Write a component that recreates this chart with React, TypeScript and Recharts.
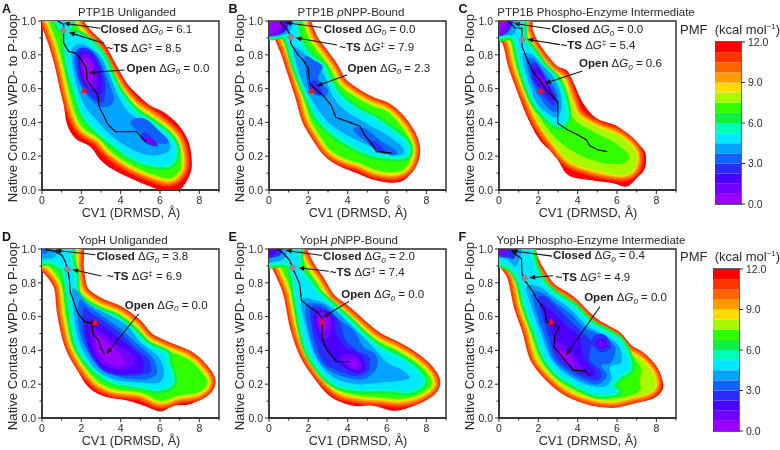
import React from "react";
import { ScatterChart, Scatter, XAxis, YAxis, ReferenceArea, BarChart, Bar, Label } from "recharts";

type P = [number, number];

const bandColors = ["#9a00ff","#7400ff","#4a00ff","#2a2cff","#0f62ff","#00a4ff","#00e8ff","#00ffb4","#10f040","#30ff00","#a8f800","#ffdc00","#ff9c00","#ff6400","#ff3400","#ff0000"];
const bandValues = [0.75,0.75,0.75,0.75,0.75,0.75,0.75,0.75,0.75,0.75,0.75,0.75,0.75,0.75,0.75,0.75];
const barTicks = [0,3,6,9,12];
const xTicks = [0,1,2,3,4,5,6,7,8,9];
const yTicks = [0,0.1,0.2,0.3,0.4,0.5,0.6,0.7,0.8,0.9,1];

// ---- Panel A
const aL15: P[] = [[-0.3,1.05],[-0.3,0.95],[0,0.95],[0.42,0.92],[0.6,0.79],[0.85,0.65],[1.1,0.51],[1.27,0.39],[1.7,0.305],[2.46,0.256],[2.97,0.178],[3.65,0.118],[4.67,0.06],[5.5,0.02],[6.2,-0.005],[7,0],[7.55,0.1],[7.6,0.2],[7.4,0.3],[6.9,0.39],[6.2,0.46],[5.5,0.5],[4.9,0.56],[4.33,0.63],[3.73,0.75],[3.14,0.87],[2.3,0.955],[1.8,1],[1.6,1.05]];
const aL9: P[] = [[0.3,1.05],[0.45,0.97],[0.76,0.87],[1.1,0.73],[1.36,0.59],[1.7,0.45],[2.1,0.365],[2.9,0.305],[3.5,0.23],[4.5,0.15],[5.7,0.09],[6.5,0.07],[7,0.12],[7.05,0.2],[6.8,0.3],[6.2,0.375],[5.35,0.445],[4.67,0.5],[4,0.59],[3.4,0.71],[2.8,0.83],[2.1,0.92],[1.7,0.985],[1.5,1.05]];
const aL6: P[] = [[1.2,0.9],[1.36,0.73],[1.7,0.59],[2.1,0.45],[2.7,0.365],[3.4,0.295],[4.5,0.2],[5.5,0.155],[6.5,0.155],[6.8,0.235],[6.45,0.315],[5.7,0.385],[4.9,0.445],[4.33,0.51],[3.65,0.63],[3.14,0.77],[2.46,0.87],[1.7,0.92]];
const aL6Top: P[] = [[0.7,1.05],[0.9,0.97],[1.2,0.93],[1.4,0.98],[1.4,1.05]];
const aL5: P[] = [[1.53,0.83],[1.65,0.67],[2.12,0.51],[2.8,0.41],[3.48,0.325],[4.33,0.256],[5.35,0.207],[6.28,0.217],[6.54,0.266],[6,0.335],[5.2,0.4],[4.4,0.46],[3.9,0.55],[3.4,0.69],[2.9,0.8],[2.1,0.86]];
const aL4: P[] = [[1.65,0.8],[1.78,0.67],[2.3,0.56],[3,0.49],[3.65,0.53],[3.28,0.67],[2.8,0.79],[2.1,0.84]];
const aL4b: P[] = [[4.5,0.405],[5,0.335],[5.86,0.276],[6.45,0.286],[6,0.345],[5.2,0.425]];
const aL3: P[] = [[1.78,0.82],[1.9,0.66],[2.4,0.56],[3.1,0.52],[3.2,0.65],[2.75,0.79],[2.25,0.84]];
const aL3b: P[] = [[5,0.31],[5.4,0.27],[5.9,0.26],[5.6,0.31],[5.2,0.34]];
const aL2: P[] = [[1.9,0.81],[2,0.66],[2.5,0.59],[3,0.57],[3,0.69],[2.55,0.8]];
const aL1: P[] = [[1.95,0.79],[2.05,0.67],[2.45,0.6],[2.8,0.62],[2.75,0.72],[2.4,0.8]];
const aL1b: P[] = [[5.1,0.3],[5.5,0.27],[5.8,0.28],[5.4,0.31]];
const aL0: P[] = [[2.05,0.76],[2.15,0.66],[2.5,0.63],[2.6,0.72],[2.35,0.78]];
const aPath: P[] = [[0.8,1],[1.1,0.98],[1.1,0.91],[1.1,0.87],[1.36,0.82],[1.7,0.81],[1.95,0.78],[2.26,0.72],[2.29,0.65],[2.55,0.61],[2.84,0.56],[2.92,0.49],[3.14,0.44],[3.34,0.39],[3.73,0.345],[4.8,0.345],[5.3,0.285]];

// ---- Panel B
const bL15: P[] = [[-0.3,1.05],[-0.3,0.9],[0,0.9],[0.54,0.9],[0.88,0.79],[1.22,0.65],[1.56,0.53],[1.82,0.39],[2.24,0.3],[2.84,0.2],[3.6,0.14],[4.45,0.1],[5.3,0.06],[6.3,0.043],[7,0.07],[7.5,0.16],[7.6,0.24],[7.33,0.325],[6.65,0.424],[6.06,0.49],[5.3,0.53],[4.45,0.58],[3.85,0.64],[3.43,0.73],[3.17,0.77],[2.4,0.88],[2.07,0.965],[1.9,1],[1.85,1.05]];
const bL9: P[] = [[-0.3,1.05],[-0.3,0.95],[0.5,0.94],[0.95,0.84],[1.3,0.72],[1.75,0.56],[2.1,0.42],[2.6,0.32],[3.1,0.24],[3.8,0.19],[4.6,0.16],[5.4,0.12],[6.3,0.105],[6.9,0.13],[7.2,0.19],[7.25,0.25],[7.05,0.32],[6.5,0.41],[5.9,0.47],[5.2,0.5],[4.4,0.55],[3.6,0.62],[3.1,0.72],[2.6,0.8],[2.1,0.88],[1.75,0.98],[1.6,1.05]];
const bL6: P[] = [[1.02,0.87],[1.4,0.72],[2.07,0.53],[2.58,0.415],[3.77,0.296],[5.13,0.217],[6.3,0.197],[7,0.207],[7,0.276],[6.3,0.345],[5.3,0.424],[4.45,0.473],[3.6,0.552],[3,0.66],[2.75,0.73],[2.07,0.79],[1.56,0.88],[1.4,0.95],[1.2,1.05],[-0.3,1.05],[-0.3,0.92],[0.7,0.92]];
const bL5: P[] = [[1.22,0.83],[1.73,0.63],[2.41,0.49],[3.17,0.385],[4.45,0.296],[5.64,0.237],[6.65,0.207],[6.83,0.247],[6,0.325],[4.96,0.394],[3.94,0.464],[3.26,0.552],[2.75,0.69],[2.07,0.77],[1.56,0.83]];
const bL5Top: P[] = [[-0.3,1.05],[-0.3,0.915],[0.7,0.915],[1.1,0.95],[1.15,1.05]];
const bL4: P[] = [[1.82,0.79],[1.9,0.67],[2.07,0.59],[2.75,0.55],[3,0.59],[2.5,0.66],[2.72,0.73],[2.24,0.77]];
const bL4b: P[] = [[4.28,0.355],[5.3,0.256],[6.15,0.207],[6.5,0.227],[5.64,0.296],[4.87,0.365]];
const bL4Top: P[] = [[-0.3,1.05],[-0.3,0.92],[0.6,0.92],[1,0.97],[1.05,1.05]];
const bL3: P[] = [[2.05,0.62],[2.2,0.575],[2.7,0.565],[2.6,0.61],[2.3,0.65]];
const bL3b: P[] = [[5.1,0.27],[5.6,0.225],[6,0.215],[5.7,0.26],[5.3,0.29]];
const bL2Top: P[] = [[-0.3,1.05],[-0.3,0.925],[0.55,0.925],[0.9,0.96],[1,1.05]];
const bL0Top: P[] = [[-0.3,1.05],[-0.3,0.94],[0.35,0.935],[0.65,1],[0.75,1.05]];
const bPath: P[] = [[0.54,0.996],[0.88,0.957],[1.14,0.907],[1.09,0.87],[1.48,0.8],[1.73,0.77],[1.99,0.72],[2.07,0.63],[2.33,0.6],[2.75,0.56],[3.17,0.5],[3.4,0.43],[4.11,0.4],[4.62,0.378],[4.87,0.325],[5.21,0.276],[5.47,0.227],[6.23,0.22]];

// ---- Panel C
const cL15: P[] = [[-0.3,1.05],[-0.3,0.907],[0,0.907],[0.2,0.897],[0.54,0.74],[0.88,0.6],[1.39,0.444],[2.07,0.296],[2.84,0.207],[3.51,0.089],[4.62,0.059],[5.8,0.04],[6.49,0.02],[7,0.07],[7.42,0.128],[7.42,0.227],[6.83,0.29],[6.06,0.375],[4.96,0.424],[4.28,0.513],[3.77,0.64],[3.43,0.71],[2.84,0.74],[2.07,0.858],[1.65,0.957],[1.48,1.05]];
const cL10: P[] = [[-0.3,1.05],[-0.3,0.95],[0.46,0.89],[0.8,0.74],[1.31,0.58],[1.99,0.404],[2.75,0.276],[3.6,0.168],[4.79,0.118],[6.15,0.089],[6.74,0.108],[7,0.168],[6.91,0.237],[6.06,0.325],[4.96,0.375],[4.02,0.444],[3.6,0.562],[3.26,0.66],[2.58,0.72],[1.73,0.848],[1.39,0.937],[1.2,1.05]];
const cL9: P[] = [[-0.3,1.05],[-0.3,0.93],[0.4,0.93],[0.71,0.858],[1.05,0.72],[1.56,0.562],[2.33,0.385],[3.17,0.276],[4.11,0.207],[5.3,0.158],[6.32,0.158],[6.57,0.207],[5.8,0.286],[4.79,0.345],[3.77,0.424],[3.34,0.562],[3,0.66],[2.33,0.74],[1.65,0.848],[1.22,0.937],[1.14,1.05]];
const cL6: P[] = [[0.97,0.82],[1.22,0.7],[1.73,0.54],[2.33,0.444],[3,0.385],[3.43,0.424],[3.29,0.542],[2.92,0.65],[2.24,0.73],[1.65,0.828],[1.22,0.897],[1.05,1.05],[-0.3,1.05],[-0.3,0.915],[0.6,0.915],[0.85,0.88]];
const cL5: P[] = [[1.2,0.8],[1.4,0.68],[1.85,0.53],[2.4,0.46],[2.95,0.43],[3.2,0.5],[3.05,0.6],[2.7,0.68],[2.2,0.74],[1.7,0.8]];
const cL5Top: P[] = [[-0.3,1.05],[-0.3,0.915],[0.35,0.915],[0.8,0.93],[0.85,1.05]];
const cL4: P[] = [[1.4,0.77],[1.55,0.68],[1.95,0.57],[2.45,0.49],[2.9,0.46],[3.05,0.52],[2.8,0.61],[2.45,0.67],[2.1,0.73],[1.7,0.78]];
const cL3: P[] = [[1.6,0.74],[1.7,0.66],[2.1,0.58],[2.55,0.52],[2.85,0.5],[2.85,0.56],[2.55,0.62],[2.2,0.7],[1.9,0.75]];
const cL3Top: P[] = [[-0.3,1.05],[-0.3,0.92],[0.3,0.92],[0.65,0.97],[0.7,1.05]];
const cL2: P[] = [[1.75,0.72],[1.75,0.65],[2.15,0.6],[2.5,0.56],[2.75,0.53],[2.7,0.58],[2.35,0.66],[2,0.72]];
const cL1: P[] = [[1.85,0.68],[2.2,0.62],[2.45,0.59],[2.3,0.65],[2,0.69]];
const cL1Top: P[] = [[-0.3,1.05],[-0.3,0.93],[0.3,0.93],[0.5,0.97],[0.6,1.05]];
const cL0Top: P[] = [[-0.3,1.05],[-0.3,0.95],[0.2,0.95],[0.4,1.05]];
const cPath: P[] = [[0.46,1],[0.8,0.96],[1.17,0.957],[1.17,0.848],[1.31,0.81],[1.48,0.76],[1.73,0.7],[2.07,0.651],[2.41,0.592],[2.75,0.552],[2.99,0.519],[2.99,0.394],[3.51,0.355],[4.02,0.325],[4.45,0.296],[4.62,0.262],[5.04,0.237],[5.5,0.227]];

// ---- Panel D
const dL15: P[] = [[-0.3,1.05],[-0.3,0.915],[0,0.915],[0.25,0.91],[0.68,0.8],[0.93,0.626],[1.19,0.449],[1.61,0.33],[2.29,0.192],[3.14,0.128],[4.33,0.103],[5.18,0.073],[6.03,0.04],[6.7,0.073],[7.56,0.083],[8.4,0.142],[8.74,0.221],[8.4,0.3],[7.72,0.379],[6.88,0.429],[6.03,0.468],[5.18,0.528],[4.5,0.617],[3.65,0.666],[2.8,0.706],[2.2,0.765],[2.04,0.883],[1.87,1],[1.85,1.05]];
const dL9: P[] = [[-0.3,1.05],[-0.3,0.95],[0.42,0.89],[1.02,0.785],[1.19,0.626],[1.53,0.449],[2.04,0.33],[2.8,0.221],[3.65,0.172],[5,0.152],[6.03,0.103],[6.88,0.132],[7.9,0.152],[8.4,0.21],[8.06,0.28],[7.39,0.35],[6.37,0.4],[5.35,0.458],[4.67,0.547],[3.82,0.617],[2.8,0.666],[1.95,0.745],[1.7,0.883],[1.53,1.05]];
const dL6: P[] = [[1.1,0.88],[1.36,0.725],[1.7,0.468],[2.2,0.35],[2.97,0.26],[3.82,0.21],[5,0.192],[5.86,0.172],[6.62,0.21],[6.37,0.33],[6.28,0.38],[5.35,0.429],[4.67,0.508],[3.82,0.587],[2.8,0.636],[1.78,0.715],[1.65,0.844],[1.44,0.943],[1.27,1.05],[-0.3,1.05],[-0.3,0.93],[0.4,0.93],[0.9,0.9]];
const dL5: P[] = [[1.53,0.745],[1.7,0.547],[2.04,0.41],[2.72,0.29],[3.65,0.23],[5,0.21],[5.94,0.21],[6.2,0.27],[5.94,0.36],[5,0.449],[4.33,0.547],[3.31,0.617],[2.38,0.676],[1.78,0.755]];
const dL5Top: P[] = [[-0.3,1.05],[-0.3,0.96],[0.6,0.95],[0.9,1.05]];
const dL4: P[] = [[1.87,0.695],[1.87,0.528],[2.29,0.4],[2.97,0.3],[3.99,0.24],[5.35,0.23],[5.86,0.27],[5.6,0.36],[4.84,0.439],[3.99,0.528],[3.14,0.597],[2.29,0.666]];
const dL4Top: P[] = [[-0.3,1.05],[-0.3,0.98],[0.3,0.98],[0.5,1.05]];
const dL3: P[] = [[2.1,0.65],[2.1,0.5],[2.5,0.37],[3.1,0.28],[4,0.25],[5,0.255],[5.55,0.28],[5.35,0.36],[4.7,0.42],[4,0.5],[3.2,0.57],[2.5,0.62]];
const dL2: P[] = [[2.3,0.58],[2.3,0.45],[2.8,0.33],[3.5,0.27],[4.4,0.26],[5.1,0.28],[5.1,0.35],[4.5,0.42],[3.8,0.48],[3,0.55]];
const dL1: P[] = [[2.5,0.53],[2.6,0.41],[3.2,0.31],[4,0.29],[4.7,0.32],[4.4,0.39],[3.7,0.44],[3.1,0.5]];
const dL0: P[] = [[2.7,0.49],[2.8,0.4],[3.3,0.33],[4,0.31],[4.2,0.34],[3.7,0.41],[3.1,0.47]];
const dPath: P[] = [[0.17,0.998],[0.68,0.986],[1.02,0.962],[1.19,0.923],[1.31,0.874],[1.39,0.824],[1.44,0.745],[1.65,0.676],[1.83,0.617],[2.2,0.567],[2.55,0.563],[2.58,0.498],[2.89,0.458],[2.97,0.419],[3.17,0.379]];

// ---- Panel E
const eL15: P[] = [[-0.3,1.05],[-0.3,0.91],[0,0.91],[0.46,0.893],[0.8,0.745],[1.14,0.547],[1.65,0.37],[2.33,0.231],[3.17,0.123],[4.28,0.073],[5.3,0.073],[6.32,0.043],[7.16,0.063],[8.18,0.123],[8.6,0.211],[8.35,0.29],[7.67,0.37],[6.83,0.429],[5.81,0.488],[5.21,0.528],[4.45,0.607],[3.6,0.666],[2.92,0.735],[2.33,0.844],[1.82,0.943],[1.65,1],[1.6,1.05]];
const eL9: P[] = [[-0.3,1.05],[-0.3,0.95],[0.3,0.95],[0.58,0.9],[1.14,0.745],[1.48,0.547],[1.99,0.38],[2.75,0.25],[3.6,0.162],[4.62,0.132],[5.64,0.123],[6.66,0.113],[7.67,0.142],[8.27,0.2],[8.01,0.27],[7.33,0.34],[6.49,0.4],[5.47,0.458],[4.7,0.528],[3.85,0.617],[3,0.696],[2.41,0.804],[1.9,0.893],[1.48,1],[1.45,1.05]];
const eL6: P[] = [[1.22,0.844],[1.56,0.607],[1.9,0.429],[2.58,0.29],[3.43,0.2],[4.62,0.172],[5.98,0.172],[7.16,0.162],[7.84,0.211],[7.5,0.28],[6.66,0.35],[5.64,0.41],[4.79,0.488],[4.11,0.567],[3.26,0.656],[2.5,0.735],[1.99,0.814],[1.56,0.883],[1.3,1.05],[-0.3,1.05],[-0.3,0.92],[0.6,0.92],[1,0.91]];
const eL5: P[] = [[1.65,0.696],[1.9,0.528],[2.41,0.35],[3.26,0.241],[4.45,0.2],[5.81,0.211],[7.08,0.231],[6.83,0.28],[5.98,0.33],[5.3,0.419],[4.62,0.498],[3.94,0.577],[3.17,0.656],[2.41,0.696]];
const eL5Top: P[] = [[-0.3,1.05],[-0.3,0.925],[0.3,0.925],[0.8,0.95],[1,1.05]];
const eL4: P[] = [[1.85,0.66],[2.05,0.5],[2.5,0.35],[3.2,0.27],[4.3,0.23],[5,0.24],[5.5,0.3],[5.4,0.38],[4.8,0.42],[4.3,0.52],[3.6,0.58],[3,0.65],[2.4,0.68]];
const eL3: P[] = [[2.1,0.64],[2.3,0.47],[2.8,0.33],[3.5,0.28],[4.3,0.25],[5,0.27],[5.1,0.36],[4.5,0.4],[3.9,0.46],[3.6,0.57],[3,0.63],[2.5,0.66]];
const eL3Top: P[] = [[-0.3,1.05],[-0.3,0.95],[0.2,0.95],[0.6,0.97],[0.7,1.05]];
const eL2: P[] = [[2.3,0.62],[2.4,0.52],[2.9,0.4],[3.5,0.33],[4.3,0.27],[4.9,0.29],[4.7,0.37],[3.9,0.42],[3.4,0.5],[3.3,0.6],[2.8,0.64]];
const eL2Top: P[] = [[-0.3,1.05],[-0.3,0.97],[0.3,0.97],[0.5,1.05]];
const eL1: P[] = [[2.4,0.6],[2.5,0.52],[2.9,0.47],[3.2,0.53],[3.1,0.6],[2.7,0.63]];
const eL1b: P[] = [[3.6,0.35],[4.2,0.29],[4.7,0.3],[4.5,0.36],[3.9,0.38]];
const eL0: P[] = [[2.5,0.59],[2.6,0.53],[2.9,0.51],[3,0.56],[2.8,0.61]];
const eL0b: P[] = [[4,0.32],[4.4,0.3],[4.5,0.33],[4.2,0.35]];
const ePath: P[] = [[0.46,0.998],[0.75,0.972],[1.05,0.933],[1.22,0.883],[1.56,0.794],[1.65,0.696],[2.07,0.656],[2.45,0.626],[2.7,0.591],[2.7,0.468],[2.92,0.409],[3.17,0.37],[3.43,0.334],[4.14,0.334]];

// ---- Panel F
const fL15: P[] = [[-0.3,1.05],[-0.3,0.905],[0,0.905],[0.37,0.875],[0.71,0.796],[0.97,0.658],[1.39,0.52],[1.73,0.342],[2.33,0.243],[3.09,0.164],[4.28,0.095],[5.47,0.065],[6.66,0.089],[7.84,0.115],[8.35,0.184],[8.1,0.273],[7.5,0.352],[6.83,0.401],[5.98,0.51],[4.96,0.549],[4.45,0.609],[3.6,0.708],[2.67,0.777],[2.16,0.856],[1.73,0.935],[1.56,1],[1.55,1.05]];
const fL10: P[] = [[-0.3,1.05],[-0.3,0.96],[0.2,0.93],[0.75,0.84],[1.1,0.66],[1.52,0.52],[1.9,0.36],[2.6,0.255],[3.5,0.17],[4.7,0.115],[5.8,0.1],[6.8,0.125],[7.6,0.15],[7.95,0.19],[7.8,0.27],[7.2,0.35],[6.5,0.4],[5.9,0.48],[4.96,0.54],[4.35,0.6],[3.55,0.69],[2.62,0.76],[2.1,0.84],[1.7,0.925],[1.52,1],[1.5,1.05]];
const fL9: P[] = [[-0.3,1.05],[-0.3,0.97],[0.2,0.95],[0.8,0.856],[1.22,0.658],[1.65,0.52],[2.07,0.372],[2.75,0.263],[3.6,0.184],[4.79,0.125],[5.81,0.115],[7.08,0.154],[7.16,0.233],[7.2,0.302],[6.75,0.372],[5.98,0.47],[4.96,0.53],[4.28,0.589],[3.51,0.678],[2.58,0.747],[2.07,0.826],[1.65,0.915],[1.48,1],[1.45,1.05]];
const fL6: P[] = [[1.14,0.777],[1.39,0.658],[1.9,0.5],[2.33,0.362],[3,0.263],[3.94,0.194],[4.96,0.144],[5.98,0.154],[5.72,0.184],[6.06,0.243],[6.66,0.302],[6.23,0.441],[5.38,0.51],[4.62,0.559],[3.77,0.658],[2.84,0.727],[2.16,0.806],[1.73,0.915],[1.4,1.05],[-0.3,1.05],[-0.3,0.94],[0.5,0.9],[0.9,0.85]];
const fL5: P[] = [[1.39,0.777],[1.65,0.658],[2.16,0.49],[2.58,0.362],[3.26,0.273],[4.28,0.204],[5.3,0.184],[5.72,0.233],[5.64,0.302],[6.23,0.332],[6.06,0.431],[5.21,0.5],[4.45,0.549],[3.6,0.648],[2.75,0.717],[2.07,0.777]];
const fL5Top: P[] = [[-0.3,1.05],[-0.3,0.96],[0.4,0.94],[0.9,0.9],[1.1,1.05]];
const fL4: P[] = [[1.7,0.74],[1.9,0.62],[2.3,0.49],[2.75,0.35],[3.4,0.28],[4.3,0.22],[5,0.2],[5.5,0.25],[5.2,0.31],[5.7,0.33],[5.9,0.42],[5.2,0.49],[4.4,0.53],[3.6,0.62],[2.8,0.69],[2.2,0.74]];
const fL3: P[] = [[2,0.71],[2.2,0.6],[2.5,0.49],[2.9,0.36],[3.5,0.29],[4.3,0.24],[5,0.22],[5.2,0.27],[4.6,0.35],[4.7,0.45],[4.2,0.51],[3.5,0.59],[2.8,0.67],[2.3,0.72]];
const fL3b: P[] = [[4.7,0.44],[5.2,0.39],[5.7,0.42],[5.4,0.49],[4.9,0.49]];
const fL3Top: P[] = [[-0.3,1.05],[-0.3,0.97],[0.4,0.95],[0.8,0.95],[0.85,1.05]];
const fL2: P[] = [[2.1,0.68],[2.5,0.56],[2.9,0.44],[3.2,0.35],[3.9,0.28],[4.6,0.25],[4.9,0.27],[4.3,0.36],[4.1,0.48],[3.4,0.55],[2.7,0.63]];
const fL2b: P[] = [[4.9,0.44],[5.2,0.41],[5.5,0.43],[5.3,0.47]];
const fL1: P[] = [[2.8,0.43],[3.1,0.35],[3.8,0.29],[4.3,0.28],[3.9,0.36],[3.4,0.42],[3.1,0.45]];
const fL1b: P[] = [[5,0.44],[5.2,0.42],[5.4,0.43],[5.2,0.46]];
const fL1Top: P[] = [[-0.3,1.05],[-0.3,0.98],[0.3,0.97],[0.6,1.05]];
const fL0: P[] = [[3.1,0.39],[3.5,0.33],[3.8,0.31],[3.7,0.36],[3.3,0.4]];
const fPath: P[] = [[0.63,0.994],[0.8,0.97],[1.14,0.945],[1.17,0.856],[1.31,0.816],[1.48,0.786],[1.73,0.747],[1.9,0.708],[2.33,0.638],[2.41,0.569],[3.06,0.54],[2.84,0.49],[2.79,0.421],[3.09,0.381],[3.51,0.322],[3.77,0.283],[4.36,0.279],[4.65,0.253]];

type Contour = [number, P[][]];
type Note = { name: string; sym: string; sub: string; sup: string; val: string; at: P; from: P; to: P };
type Panel = { letter: string; title: any; left: number; top: number; titleX: number; contours: Contour[]; path: P[]; ts: P; tri: P; notes: Note[] };

const note = (name: string, sub: string, sup: string, val: string, at: P, from: P, to: P): Note => ({ name, sym: "G", sub, sup, val, at, from, to });

const panels: Panel[] = [
  { letter: "A", title: "PTP1B Unliganded", left: 0, top: 0, titleX: 127,
    contours: [[15,[aL15]],[9,[aL9]],[6,[aL6,aL6Top]],[5,[aL5]],[4,[aL4,aL4b]],[3,[aL3,aL3b]],[2,[aL2]],[1,[aL1,aL1b]],[0,[aL0]]],
    path: aPath, ts: [1.08,0.945], tri: [2.15,0.59],
    notes: [note("Closed","0","","= 6.1",[2.97,0.93],[2.97,0.957],[1.1,0.986]),note("~TS","","‡","= 8.5",[3.28,0.815],[3.14,0.868],[1.36,0.933]),note("Open","0","","= 0.0",[4.3,0.7],[4.19,0.71],[2.38,0.694])] },
  { letter: "B", title: <>PTP1B <i>p</i>NPP-Bound</>, left: 227, top: 0, titleX: 351,
    contours: [[15,[bL15]],[9,[bL9]],[6,[bL6]],[5,[bL5,bL5Top]],[4,[bL4,bL4b,bL4Top]],[3,[bL3,bL3b]],[2,[bL2Top]],[0,[bL0Top]]],
    path: bPath, ts: [1.11,0.905], tri: [2.17,0.59],
    notes: [note("Closed","0","","= 0.0",[2.78,0.93],[2.67,0.962],[0.85,0.99]),note("~TS","","‡","= 7.9",[3.57,0.824],[3.46,0.858],[1.34,0.901]),note("Open","0","","= 2.3",[3.99,0.7],[3.97,0.68],[2.41,0.615])] },
  { letter: "C", title: "PTP1B Phospho-Enzyme Intermediate", left: 457, top: 0, titleX: 596,
    contours: [[15,[cL15]],[10,[cL10]],[9,[cL9]],[6,[cL6]],[5,[cL5,cL5Top]],[4,[cL4]],[3,[cL3,cL3Top]],[2,[cL2]],[1,[cL1,cL1Top]],[0,[cL0Top]]],
    path: cPath, ts: [1.19,0.89], tri: [2.14,0.59],
    notes: [note("Closed","0","","= 0.0",[2.67,0.927],[2.63,0.953],[0.75,0.986]),note("~TS","","‡","= 5.4",[3.13,0.832],[3.1,0.86],[1.43,0.892]),note("Open","0","","= 0.6",[4.07,0.726],[4.24,0.704],[2.33,0.631])] },
  { letter: "D", title: "YopH Unliganded", left: 0, top: 228, titleX: 123,
    contours: [[15,[dL15]],[9,[dL9]],[6,[dL6]],[5,[dL5,dL5Top]],[4,[dL4,dL4Top]],[3,[dL3]],[2,[dL2]],[1,[dL1]],[0,[dL0]]],
    path: dPath, ts: [1.3,0.88], tri: [2.7,0.567],
    notes: [note("Closed","0","","= 3.8",[2.77,0.933],[2.72,0.966],[0.68,0.992]),note("~TS","","‡","= 6.9",[3.31,0.814],[3.02,0.84],[1.53,0.879]),note("Open","0","","= 0.0",[4.21,0.646],[4.92,0.617],[3.28,0.379])] },
  { letter: "E", title: <>YopH <i>p</i>NPP-Bound</>, left: 227, top: 228, titleX: 349,
    contours: [[15,[eL15]],[9,[eL9]],[6,[eL6]],[5,[eL5,eL5Top]],[4,[eL4]],[3,[eL3,eL3Top]],[2,[eL2,eL2Top]],[1,[eL1,eL1b]],[0,[eL0,eL0b]]],
    path: ePath, ts: [1.2,0.89], tri: [2.7,0.57],
    notes: [note("Closed","0","","= 2.0",[2.75,0.933],[2.7,0.962],[0.85,0.992]),note("~TS","","‡","= 7.4",[3.09,0.84],[3.04,0.868],[1.48,0.889]),note("Open","0","","= 0.0",[3.68,0.71],[4.07,0.69],[2.75,0.597])] },
  { letter: "F", title: "YopH Phospho-Enzyme Intermediate", left: 457, top: 228, titleX: 591,
    contours: [[15,[fL15]],[10,[fL10]],[9,[fL9]],[6,[fL6]],[5,[fL5,fL5Top]],[4,[fL4]],[3,[fL3,fL3b,fL3Top]],[2,[fL2,fL2b]],[1,[fL1,fL1b,fL1Top]],[0,[fL0]]],
    path: fPath, ts: [1.31,0.826], tri: [2.67,0.57],
    notes: [note("Closed","0","","= 0.4",[2.75,0.939],[2.7,0.958],[0.63,0.99]),note("~TS","","‡","= 4.9",[2.87,0.812],[2.75,0.842],[1.53,0.83]),note("Open","0","","= 0.0",[4.33,0.692],[5.13,0.658],[3.4,0.372])] },
];

const FONT = "'Liberation Sans', Arial, sans-serif";
const INK = "#2a2a2a";
const none = () => null;
const rows = (a: P[]) => a.map(([x, y]) => ({ x, y }));

// closed smooth outline through the points the chart's scales produced
function blob(points: { x: number; y: number }[]) {
  const n = points.length;
  let d = `M${points[0].x},${points[0].y}`;
  for (let i = 0; i < n; i++) {
    const p0 = points[(i - 1 + n) % n], p1 = points[i], p2 = points[(i + 1) % n], p3 = points[(i + 2) % n];
    d += `C${p1.x + (p2.x - p0.x) / 6},${p1.y + (p2.y - p0.y) / 6} ${p2.x - (p3.x - p1.x) / 6},${p2.y - (p3.y - p1.y) / 6} ${p2.x},${p2.y}`;
  }
  return d + "Z";
}

const stepFor = (level: number) => (level >= 9 ? 1.7 : 2.4);

function contourSeries(panel: Panel) {
  const out: any[] = [];
  let prev = 16;
  panel.contours.forEach(([level, polys], ci) => {
    for (let k = prev - 1; k >= level; k--) {
      const w = k === level ? 0 : 2 * (k - level) * stepFor(level);
      polys.forEach((poly, pi) => {
        out.push(
          <Scatter key={`${panel.letter}-${ci}-${k}-${pi}`} data={rows(poly)} isAnimationActive={false} shape={none} fill="none"
            line={(p: any) => (
              <path d={blob(p.points)} fill={bandColors[k]} stroke={w ? bandColors[k] : "none"} strokeWidth={w} strokeLinejoin="round" />
            )} />
        );
      });
    }
    prev = level;
  });
  return out;
}

function arrow(p: any) {
  const [a, b] = p.points;
  const L = Math.hypot(b.x - a.x, b.y - a.y) || 1;
  const ux = (b.x - a.x) / L, uy = (b.y - a.y) / L;
  const h = 6, w = 2.4;
  const bx = b.x - ux * h, by = b.y - uy * h;
  return (
    <g>
      <line x1={a.x} y1={a.y} x2={bx} y2={by} stroke="#111" strokeWidth={1.1} />
      <polygon points={`${b.x},${b.y} ${bx - uy * w},${by + ux * w} ${bx + uy * w},${by - ux * w}`} fill="#111" />
    </g>
  );
}

function noteShape(n: Note) {
  return (p: any) => (
    <text x={p.cx} y={p.cy} fontFamily={FONT} fontSize={11.5} fill="#222">
      <tspan fontWeight="bold">{n.name}</tspan>
      <tspan> Δ</tspan>
      <tspan fontStyle="italic">{n.sym}</tspan>
      {n.sub ? <tspan fontStyle="italic" fontSize={8} dy={2.5}>{n.sub}</tspan> : <tspan fontSize={8} dy={-4}>{n.sup}</tspan>}
      <tspan dy={n.sub ? -2.5 : 4}> {n.val}</tspan>
    </text>
  );
}

const xTick = (p: any) => {
  const major = p.payload.value % 2 === 0;
  return (
    <g>
      <line x1={p.x} x2={p.x} y1={p.y} y2={p.y + (major ? 4 : 2.5)} stroke={INK} strokeWidth={1} />
      {major && p.payload.value < 9 ? <text x={p.x} y={p.y + 14} textAnchor="middle" fontSize={10.5} fontFamily={FONT} fill={INK}>{p.payload.value}</text> : null}
    </g>
  );
};
const yTick = (p: any) => {
  const v = Math.round(p.payload.value * 10);
  const major = v % 2 === 0;
  return (
    <g>
      <line x1={p.x} x2={p.x - (major ? 4 : 2.5)} y1={p.y} y2={p.y} stroke={INK} strokeWidth={1} />
      {major ? <text x={p.x - 6} y={p.y + 3.7} textAnchor="end" fontSize={10.5} fontFamily={FONT} fill={INK}>{(v / 10).toFixed(1)}</text> : null}
    </g>
  );
};

function PanelChart({ panel }: { panel: Panel }) {
  return (
    <div style={{ position: "absolute", left: panel.left, top: panel.top, width: 222, height: 225 }}>
      <ScatterChart width={222} height={225} margin={{ top: 21, right: 3, bottom: 0, left: 0 }}>
        <XAxis dataKey="x" type="number" domain={[0, 9]} ticks={xTicks} allowDataOverflow interval={0} height={35} tickSize={0} tickMargin={0} tickLine={false}
          tick={xTick} stroke={INK} strokeWidth={1.4}>
          <Label content={(p: any) => <text x={p.viewBox.x + p.viewBox.width / 2 + 0.5} y={217} textAnchor="middle" fontSize={12.7} fontFamily={FONT} fill={INK}>CV1 (DRMSD, Å)</text>} />
        </XAxis>
        <YAxis dataKey="y" type="number" domain={[0, 1]} ticks={yTicks} allowDataOverflow interval={0} width={42} tickSize={0} tickMargin={0} tickLine={false}
          tick={yTick} stroke={INK} strokeWidth={1.4}>
          <Label content={() => <text transform="translate(17 108) rotate(-90)" textAnchor="middle" fontSize={13.2} fontFamily={FONT} fill={INK}>Native Contacts WPD- to P-loop</text>} />
        </YAxis>
        {contourSeries(panel)}
        <Scatter data={rows(panel.path)} isAnimationActive={false} shape={none} fill="none" line={{ stroke: "#0a0a0a", strokeWidth: 1.2 }} lineJointType="linear" />
        {panel.notes.map((n, i) => (
          <Scatter key={`arrow${i}`} data={rows([n.from, n.to])} isAnimationActive={false} shape={none} fill="none" line={arrow} />
        ))}
        <Scatter data={rows([panel.ts])} isAnimationActive={false} shape={(p: any) => <polygon points={`${p.cx},${p.cy - 4} ${p.cx + 4},${p.cy} ${p.cx},${p.cy + 4} ${p.cx - 4},${p.cy}`} fill="#8c8c8c" />} />
        <Scatter data={rows([panel.tri])} isAnimationActive={false} shape={(p: any) => <polygon points={`${p.cx},${p.cy - 3.5} ${p.cx + 3.5},${p.cy + 2.8} ${p.cx - 3.5},${p.cy + 2.8}`} fill="#f0101c" />} />
        {panel.notes.map((n, i) => (
          <Scatter key={`note${i}`} data={rows([n.at])} isAnimationActive={false} shape={noteShape(n)} />
        ))}
        <ReferenceArea x1={0} x2={9} y1={0} y2={1} fill="none" stroke={INK} strokeWidth={1.4} ifOverflow="visible" />
      </ScatterChart>
    </div>
  );
}

const barRow = [Object.fromEntries(bandValues.map((v, i) => [`b${i}`, v]))];

const barTick = (p: any) => (
  <g>
    <line x1={p.x} x2={p.x + 4} y1={p.y} y2={p.y} stroke={INK} strokeWidth={1} />
    <text x={p.x + 7} y={p.y + 3.7} fontSize={10.5} fontFamily={FONT} fill={INK}>{p.payload.value.toFixed(1)}</text>
  </g>
);

function ColorBar({ left, top }: { left: number; top: number }) {
  return (
    <div style={{ position: "absolute", left, top, width: 66, height: 172 }}>
      <BarChart width={66} height={172} data={barRow} margin={{ top: 5, right: 0, bottom: 5, left: 0 }} barCategoryGap={0} barGap={0}>
        <XAxis hide />
        <YAxis orientation="right" type="number" domain={[0, 12]} ticks={barTicks} interval={0} width={40} axisLine={false} tickLine={false} tickSize={0} tickMargin={0} tick={barTick} />
        {bandValues.map((_, i) => (
          <Bar key={i} dataKey={`b${i}`} stackId="s" fill={bandColors[i]} isAnimationActive={false} />
        ))}
        <ReferenceArea y1={0} y2={12} fill="none" stroke={INK} strokeWidth={1.4} ifOverflow="visible" />
      </BarChart>
    </div>
  );
}

const abs = (left: number, top: number, extra: any = {}) => ({ position: "absolute", left, top, fontFamily: FONT, color: INK, whiteSpace: "pre", lineHeight: 1, ...extra });

export default function App() {
  return (
    <div style={{ position: "absolute", left: 0, top: 0, width: 780, height: 450, overflow: "hidden", background: "#fff", filter: "blur(0.35px)" }}>
      {panels.map((p) => <PanelChart key={p.letter} panel={p} />)}
      {panels.map((p) => (
        <React.Fragment key={p.letter}>
          <div style={abs(p.left + (p.left ? 1.5 : 2), p.top + 3, { fontSize: 12.5, fontWeight: "bold", color: "#111" })}>{p.letter}</div>
          <div style={abs(p.titleX, p.top + 7, { fontSize: 11.5, transform: "translateX(-50%)" })}>{p.title}</div>
        </React.Fragment>
      ))}
      <ColorBar left={715} top={37} />
      <ColorBar left={713} top={264} />
      <div style={abs(680, 23, { fontSize: 13 })}>PMF  (kcal mol<sup style={{ fontSize: 8, lineHeight: 0 }}>−1</sup>)</div>
      <div style={abs(680, 250, { fontSize: 13 })}>PMF  (kcal mol<sup style={{ fontSize: 8, lineHeight: 0 }}>−1</sup>)</div>
    </div>
  );
}
